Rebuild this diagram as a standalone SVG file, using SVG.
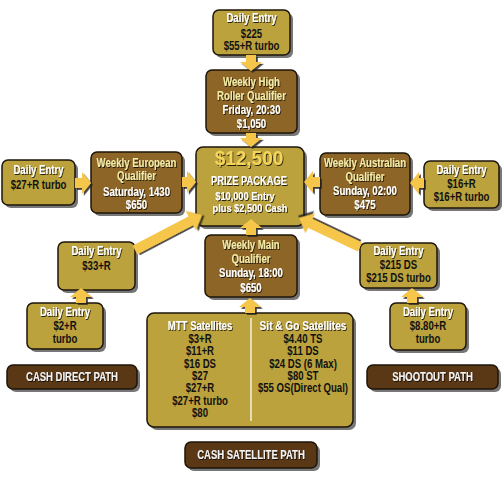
<svg xmlns="http://www.w3.org/2000/svg" width="503" height="494" viewBox="0 0 503 494">
<defs>
<filter id="ts" x="-10%" y="-30%" width="130%" height="170%"><feDropShadow dx="1" dy="1" stdDeviation="0.45" flood-color="#000" flood-opacity="0.8"/></filter>
<filter id="as" x="-20%" y="-20%" width="150%" height="150%"><feDropShadow dx="1.8" dy="1.8" stdDeviation="0.5" flood-color="#1a1a1a" flood-opacity="0.85"/></filter>
<style>
.sh{fill:#777}
.lt{fill:#BBA23D;stroke:#1c150a;stroke-width:1.5}
.br{fill:#8D6526;stroke:#1c150a;stroke-width:1.5}
.dk{fill:#5A3816;stroke:#1c150a;stroke-width:1.5}
.arr{fill:#F6C64B;filter:url(#as)}
text{font-family:"Liberation Sans",Arial,sans-serif;font-weight:bold;font-size:12px;text-anchor:middle}
.w{fill:#fff;filter:url(#ts)}
.k{fill:#111}
.y{fill:#F3EAA6;filter:url(#ts)}
.g{fill:#F4D45A;filter:url(#ts);font-size:21px}
.s{font-size:10.5px}
.p{fill:#f2f2f2;font-size:13px;filter:url(#ts)}
</style>
</defs>
<rect width="503" height="494" fill="#fff"/>

<g id="topDaily">
<rect class="sh" x="216" y="13" width="77" height="45" rx="6"/>
<rect class="lt" x="213" y="10" width="77" height="45" rx="6"/>
<g transform="translate(251.5 0) scale(0.8 1)"><text class="w" x="0" y="22">Daily Entry</text><text class="k" x="0" y="38">$225</text><text class="k" x="0" y="50">$55+R turbo</text></g>
</g>

<g id="highRoller">
<rect class="sh" x="209" y="73" width="91" height="63" rx="6"/>
<rect class="br" x="206" y="70" width="91" height="63" rx="6"/>
<g transform="translate(251.5 0) scale(0.8 1)"><text class="y" x="0" y="86">Weekly High</text><text class="y" x="0" y="100">Roller Qualifier</text><text class="w" x="0" y="114">Friday, 20:30</text><text class="w" x="0" y="128">$1,050</text></g>
</g>

<g id="prize">
<rect class="sh" x="199" y="150" width="108" height="79" rx="7"/>
<rect class="lt" x="196" y="147" width="108" height="79" rx="7"/>
<g transform="translate(249 0) scale(0.9 1)"><text class="g" x="0" y="165.5">$12,500</text></g>
<g transform="translate(249 0) scale(0.78 1)"><text class="w" x="0" y="185.5">PRIZE PACKAGE</text></g>
<g transform="translate(245 0) scale(0.88 1)"><text class="w s" x="0" y="200">$10,000 Entry</text></g>
<g transform="translate(250 0) scale(0.88 1)"><text class="w s" x="0" y="212">plus $2,500 Cash</text></g>
</g>

<g id="leftDaily">
<rect class="sh" x="5" y="163" width="73" height="45" rx="6"/>
<rect class="lt" x="2" y="160" width="73" height="45" rx="6"/>
<g transform="translate(38.5 0) scale(0.8 1)"><text class="w" x="0" y="174">Daily Entry</text><text class="k" x="0" y="189">$27+R turbo</text></g>
</g>

<g id="european">
<rect class="sh" x="94" y="155" width="91" height="61" rx="6"/>
<rect class="br" x="91" y="152" width="91" height="61" rx="6"/>
<g transform="translate(136.5 0) scale(0.8 1)"><text class="y" x="0" y="167">Weekly European</text><text class="y" x="0" y="180">Qualifier</text><text class="w" x="0" y="196">Saturday, 1430</text><text class="w" x="0" y="209">$650</text></g>
</g>

<g id="australian">
<rect class="sh" x="323" y="156" width="90" height="62" rx="6"/>
<rect class="br" x="320" y="153" width="90" height="62" rx="6"/>
<g transform="translate(365 0) scale(0.8 1)"><text class="y" x="0" y="167">Weekly Australian</text><text class="y" x="0" y="181">Qualifier</text><text class="w" x="0" y="195">Sunday, 02:00</text><text class="w" x="0" y="209">$475</text></g>
</g>

<g id="rightDaily">
<rect class="sh" x="427" y="164" width="75" height="47" rx="6"/>
<rect class="lt" x="424" y="161" width="75" height="47" rx="6"/>
<g transform="translate(461.5 0) scale(0.8 1)"><text class="w" x="0" y="174">Daily Entry</text><text class="k" x="0" y="188">$16+R</text><text class="k" x="0" y="201">$16+R turbo</text></g>
</g>

<g id="daily33">
<rect class="sh" x="61" y="245" width="77" height="48" rx="6"/>
<rect class="lt" x="58" y="242" width="77" height="48" rx="6"/>
<g transform="translate(96.5 0) scale(0.8 1)"><text class="w" x="0" y="255.5">Daily Entry</text><text class="k" x="0" y="270.5">$33+R</text></g>
</g>

<g id="daily2">
<rect class="sh" x="30" y="306" width="76" height="46" rx="6"/>
<rect class="lt" x="27" y="303" width="76" height="46" rx="6"/>
<g transform="translate(65 0) scale(0.8 1)"><text class="w" x="0" y="316.5">Daily Entry</text><text class="k" x="0" y="330.5">$2+R</text><text class="k" x="0" y="343.5">turbo</text></g>
</g>

<g id="daily215">
<rect class="sh" x="363" y="246" width="77" height="45" rx="6"/>
<rect class="lt" x="360" y="243" width="77" height="45" rx="6"/>
<g transform="translate(398.5 0) scale(0.8 1)"><text class="w" x="0" y="255.5">Daily Entry</text><text class="k" x="0" y="269.5">$215 DS</text><text class="k" x="0" y="282">$215 DS turbo</text></g>
</g>

<g id="daily880">
<rect class="sh" x="393" y="306" width="76" height="47" rx="6"/>
<rect class="lt" x="390" y="303" width="76" height="47" rx="6"/>
<g transform="translate(428 0) scale(0.8 1)"><text class="w" x="0" y="316.5">Daily Entry</text><text class="k" x="0" y="330.5">$8.80+R</text><text class="k" x="0" y="343.5">turbo</text></g>
</g>

<g id="weeklyMain">
<rect class="sh" x="208" y="238" width="92" height="62" rx="6"/>
<rect class="br" x="205" y="235" width="92" height="62" rx="6"/>
<g transform="translate(251 0) scale(0.8 1)"><text class="y" x="0" y="249.5">Weekly Main</text><text class="y" x="0" y="263.5">Qualifier</text><text class="w" x="0" y="277.5">Sunday, 18:00</text><text class="w" x="0" y="292">$650</text></g>
</g>

<g id="satellites">
<rect class="sh" x="150" y="316" width="206" height="114" rx="7"/>
<rect class="lt" x="147" y="313" width="206" height="114" rx="7"/>
<line x1="251" y1="318" x2="251" y2="421" stroke="#f4f0dc" stroke-width="1.5"/>
<g transform="translate(200 0) scale(0.8 1)"><text class="w" x="0" y="330.5">MTT Satellites</text><text class="k" x="0" y="343">$3+R</text><text class="k" x="0" y="355.5">$11+R</text><text class="k" x="0" y="368">$16 DS</text><text class="k" x="0" y="380">$27</text><text class="k" x="0" y="392.5">$27+R</text><text class="k" x="0" y="405">$27+R turbo</text><text class="k" x="0" y="417">$80</text></g>
<g transform="translate(303 0) scale(0.84 1)"><text class="w" x="0" y="330.5">Sit &amp; Go Satellites</text></g>
<g transform="translate(303 0) scale(0.8 1)"><text class="k" x="0" y="343">$4.40 TS</text><text class="k" x="0" y="355.5">$11 DS</text><text class="k" x="0" y="368">$24 DS (6 Max)</text><text class="k" x="0" y="380">$80 ST</text><text class="k" x="0" y="392.5">$55 OS(Direct Qual)</text></g>
</g>

<g id="cashDirect">
<rect class="sh" x="10" y="368" width="130" height="24" rx="6"/>
<rect class="dk" x="7" y="365" width="130" height="24" rx="6"/>
<g transform="translate(72 0) scale(0.73 1)"><text class="p" x="0" y="381.5">CASH DIRECT PATH</text></g>
</g>

<g id="shootout">
<rect class="sh" x="370" y="368" width="131" height="24" rx="6"/>
<rect class="dk" x="367" y="365" width="131" height="24" rx="6"/>
<g transform="translate(432.5 0) scale(0.73 1)"><text class="p" x="0" y="381.5">SHOOTOUT PATH</text></g>
</g>

<g id="cashSatellite">
<rect class="sh" x="188" y="445" width="132" height="26" rx="6"/>
<rect class="dk" x="185" y="442" width="132" height="26" rx="6"/>
<g transform="translate(251 0) scale(0.73 1)"><text class="p" x="0" y="459.5">CASH SATELLITE PATH</text></g>
</g>

<g id="connectors">
<path class="arr" d="M246,55 H256 V62 H262 L251,71 L240,62 H246 Z"/>
<path class="arr" d="M246,133 H256 V138 H262 L251,147 L240,138 H246 Z"/>
<path class="arr" d="M246,235 H256 V228 H262 L251,219 L240,228 H246 Z"/>
<path class="arr" d="M245,313 H255 V307 H261 L250,298 L239,307 H245 Z"/>
<path class="arr" d="M76,303 H86 V297 H92 L81,288 L70,297 H76 Z"/>
<path class="arr" d="M407,303 H417 V297 H423 L412,288 L401,297 H407 Z"/>
<path class="arr" d="M75,178 V188 H82 V194 L91,183 L82,172 V178 Z"/>
<path class="arr" d="M182,177 V187 H187 V193 L196,182 L187,171 V177 Z"/>
<path class="arr" d="M320,177 V187 H313 V193 L304,182 L313,171 V177 Z"/>
<path class="arr" d="M424,178 V188 H419 V194 L410,183 L419,172 V178 Z"/>
<path class="arr" transform="translate(135 250) rotate(-27.6)" d="M0,-5 H63 V-11 L75.6,0 L63,11 V5 H0 Z"/>
<path class="arr" transform="translate(360 247) rotate(-154.6)" d="M0,-5 H55 V-11 L67.5,0 L55,11 V5 H0 Z"/>
</g>
</svg>
